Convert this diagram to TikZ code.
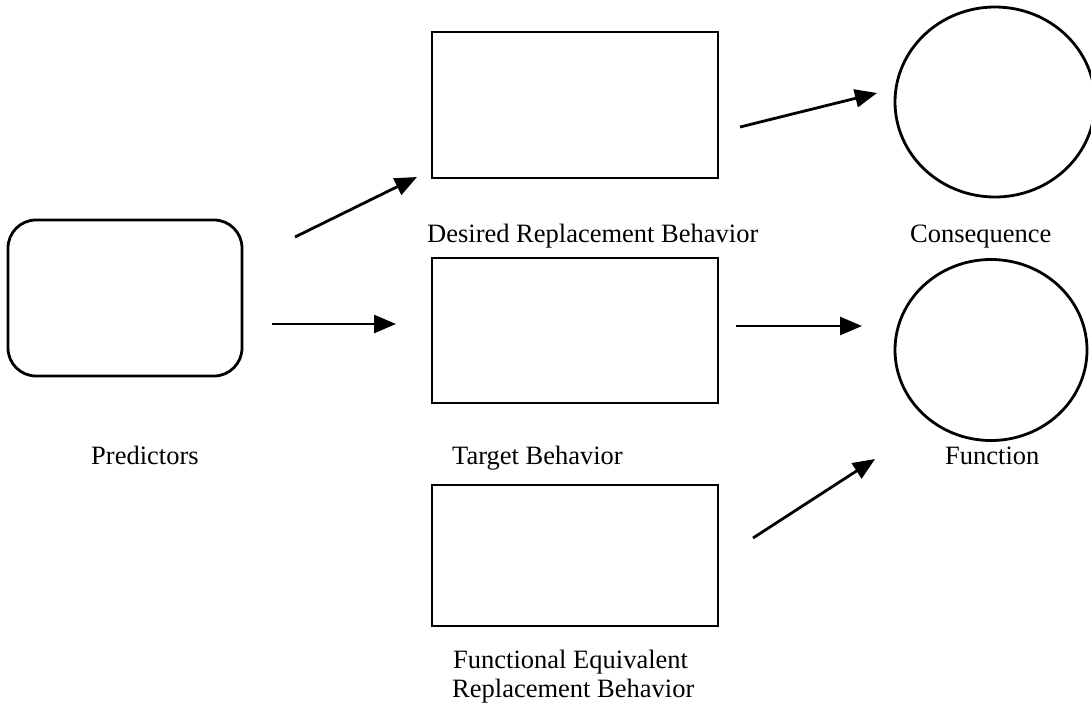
\documentclass[tikz,border=0pt]{standalone}
\usepackage{fontspec}
\setmainfont{Liberation Serif}
\usetikzlibrary{arrows.meta,shapes.geometric}
\begin{document}
\begin{tikzpicture}[x=1pt,y=-1pt,
  shp/.style={draw, line width=2.8pt, inner sep=0pt},
  conn/.style={line width=2.8pt,-{Triangle[length=22pt,width=18pt]}},
  lbl/.style={font=\fontsize{26.5}{31}\selectfont, inner sep=0pt, anchor=base west},
]
\useasboundingbox (0,0) rectangle (1091,707);
% shapes
\node[shp, rounded corners=28pt, minimum width=234pt, minimum height=156pt] (pred) at (125,298) {};
\node[shp, minimum width=286pt, minimum height=146pt] (drb) at (575,105) {};
\node[shp, minimum width=286pt, minimum height=145pt] (tb) at (575,330.5) {};
\node[shp, minimum width=286pt, minimum height=141pt] (feb) at (575,555.5) {};
\node[shp, ellipse, minimum width=200pt, minimum height=190pt] (cons) at (995,102) {};
\node[shp, ellipse, minimum width=192pt, minimum height=181pt] (func) at (991,350) {};
% labels
\node[lbl] (lpred) at (91,464) {Predictors};
\node[lbl] (ldrb) at (427,242) {Desired Replacement Behavior};
\node[lbl] (lcons) at (910,242) {Consequence};
\node[lbl] (ltb) at (452,464) {Target Behavior};
\node[lbl] (lfunc) at (945,464) {Function};
\node[lbl] (lfeb1) at (453,668) {Functional Equivalent};
\node[lbl] (lfeb2) at (452,697) {Replacement Behavior};
% connector ends
\coordinate (a1s) at (295,237); \coordinate (a1e) at (417,177);
\coordinate (a2s) at (272,324); \coordinate (a2e) at (396,324);
\coordinate (a3s) at (740,127); \coordinate (a3e) at (877,93);
\coordinate (a4s) at (736,326); \coordinate (a4e) at (862,326);
\coordinate (a5s) at (753,538); \coordinate (a5e) at (875,459);
\draw[conn] (a1s) -- (a1e);
\draw[conn] (a2s) -- (a2e);
\draw[conn] (a3s) -- (a3e);
\draw[conn] (a4s) -- (a4e);
\draw[conn] (a5s) -- (a5e);
\end{tikzpicture}
\end{document}
